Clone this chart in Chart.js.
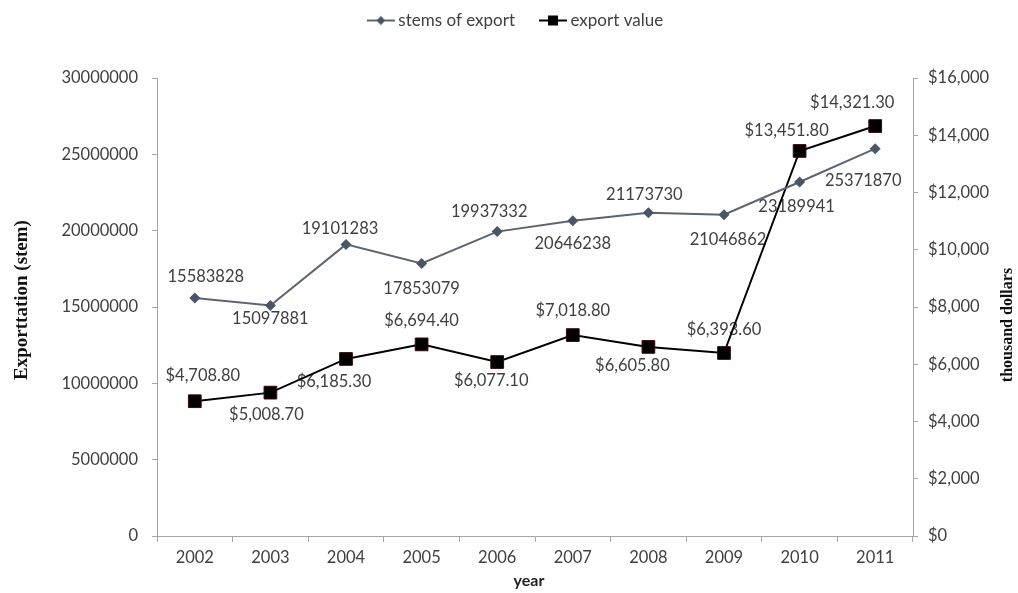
<!DOCTYPE html>
<html>
<head>
<meta charset="utf-8">
<script src="https://cdn.jsdelivr.net/npm/chart.js@4/dist/chart.umd.min.js"></script>
<style>
html,body{margin:0;padding:0;background:#fff;}
#wrap{width:1018px;height:593px;position:relative;}
</style>
</head>
<body>
<div id="wrap"><canvas id="c" width="1018" height="593"></canvas></div>
<script>
// ---- data ----
const years = ['2002','2003','2004','2005','2006','2007','2008','2009','2010','2011'];
const stemsOfExport = [15583828, 15097881, 19101283, 17853079, 19937332, 20646238, 21173730, 21046862, 23189941, 25371870];
const exportValue = [4708.80, 5008.70, 6185.30, 6694.40, 6077.10, 7018.80, 6605.80, 6393.60, 13451.80, 14321.30];
const seriesNames = ['stems of export', 'export value'];
const axisTitles = {left: 'Exporttation (stem)', right: 'thousand dollars', x: 'year'};

// ---- label placement (style, px offsets from the point) ----
const stemLabelOffsets = [[11,-21],[0,13],[-6,-16],[0,25],[-8,-20],[0,23],[-4,-18],[4,25],[-3,25],[-12,32]];
const valueLabelOffsets = [[8,-26],[-4,22],[-12,23],[0,-24],[-6,19],[0,-24],[-16,19],[0,-23],[-13,-20],[-23,-23]];

const FONT = 'Lato, "DejaVu Sans", sans-serif';
const FS = 16.5;
const TXT = '#404040';
const STEM_LINE = '#5d6470';
const STEM_PT = '#4b5565';

function fmtStem(v){ return String(v); }
function fmtMoney(v){ return '$' + v.toLocaleString('en-US',{minimumFractionDigits:2, maximumFractionDigits:2}); }

function legendIcon(kind){
  const c = document.createElement('canvas');
  c.width = 47; c.height = 14;
  const g = c.getContext('2d');
  const x0 = 18, x1 = 46, cy = 7, cx = (x0+x1)/2;
  g.lineWidth = 2;
  g.strokeStyle = kind === 'stem' ? STEM_LINE : '#000';
  g.beginPath(); g.moveTo(x0, cy); g.lineTo(x1, cy); g.stroke();
  if (kind === 'stem') {
    g.fillStyle = STEM_PT;
    g.beginPath(); g.moveTo(cx, cy-4.5); g.lineTo(cx+4.5, cy); g.lineTo(cx, cy+4.5); g.lineTo(cx-4.5, cy); g.closePath(); g.fill();
  } else {
    g.fillStyle = '#000';
    g.fillRect(cx-5, cy-5, 10, 10);
  }
  return c;
}
const legendIcons = [legendIcon('stem'), legendIcon('value')];

const legendGapPlugin = {
  id: 'legendGap',
  beforeInit(chart){
    const lg = chart.legend;
    if (!lg) return;
    const orig = lg.fit;
    lg.fit = function(){ orig.apply(this, arguments); this.height += 39; };
  }
};

const labelPlugin = {
  id: 'pointLabels',
  beforeDatasetsDraw(chart){
    const ctx = chart.ctx;
    const offs = [stemLabelOffsets, valueLabelOffsets];
    const fmts = [fmtStem, fmtMoney];
    chart.data.datasets.forEach((ds, di) => {
      const meta = chart.getDatasetMeta(di);
      meta.data.forEach((pt, i) => {
        const o = offs[di][i];
        ctx.save();
        ctx.font = FS + 'px ' + FONT;
        ctx.fillStyle = TXT;
        ctx.textAlign = 'center';
        ctx.textBaseline = 'middle';
        ctx.fillText(fmts[di](ds.data[i]), pt.x + o[0], pt.y + o[1]);
        ctx.restore();
      });
    });
  }
};

const titlePlugin = {
  id: 'axisTitles',
  afterDraw(chart){
    const ctx = chart.ctx;
    ctx.save();
    ctx.fillStyle = '#111';
    ctx.textAlign = 'center';
    ctx.textBaseline = 'middle';
    ctx.font = 'bold 19px "Liberation Serif", "Times New Roman", serif';
    ctx.save(); ctx.translate(22, 300); ctx.rotate(-Math.PI/2); ctx.fillText(axisTitles.left, 0, 0); ctx.restore();
    ctx.font = 'bold 16px "Liberation Serif", "Times New Roman", serif';
    ctx.save(); ctx.translate(1008, 325); ctx.rotate(-Math.PI/2); ctx.fillText(axisTitles.right, 0, 0); ctx.restore();
    ctx.font = 'bold 16px ' + FONT;
    ctx.fillStyle = '#222';
    ctx.fillText(axisTitles.x, 529, 581);
    ctx.restore();
  }
};

const axisColor = '#a6a6a6';

new Chart(document.getElementById('c'), {
  type: 'line',
  data: {
    labels: years,
    datasets: [
      {
        label: seriesNames[0],
        data: stemsOfExport,
        yAxisID: 'y',
        borderColor: STEM_LINE,
        backgroundColor: STEM_PT,
        borderWidth: 2,
        pointStyle: 'rectRot',
        pointRadius: 5.5,
        pointHoverRadius: 5.5,
        pointBackgroundColor: STEM_PT,
        pointBorderColor: STEM_PT,
        pointBorderWidth: 0,
        tension: 0,
        fill: false
      },
      {
        label: seriesNames[1],
        data: exportValue,
        yAxisID: 'y1',
        borderColor: '#000',
        backgroundColor: '#000',
        borderWidth: 2,
        pointStyle: 'rect',
        pointRadius: 9,
        pointHoverRadius: 9,
        pointBackgroundColor: '#000',
        pointBorderColor: '#3a0a0a',
        pointBorderWidth: 1,
        tension: 0,
        fill: false
      }
    ]
  },
  options: {
    responsive: false,
    animation: false,
    events: [],
    layout: {padding: {top: 0, left: 0, right: 0, bottom: 0}},
    plugins: {
      tooltip: {enabled: false},
      legend: {
        display: true,
        position: 'top',
        labels: {
          usePointStyle: true,
          pointStyleWidth: 35,
          padding: 12,
          color: TXT,
          font: {family: FONT, size: 17},
          generateLabels(chart){
            return chart.data.datasets.map((ds, i) => ({
              text: ds.label,
              pointStyle: legendIcons[i],
              fillStyle: ds.borderColor,
              strokeStyle: ds.borderColor,
              lineWidth: 0,
              hidden: false,
              datasetIndex: i,
              fontColor: TXT
            }));
          }
        }
      }
    },
    scales: {
      x: {
        type: 'category',
        offset: true,
        grid: {display: true, drawOnChartArea: false, drawTicks: true, tickLength: 6, color: axisColor, offset: true},
        border: {display: true, color: axisColor, width: 1},
        ticks: {color: TXT, font: {family: FONT, size: FS}, padding: 6, maxRotation: 0},
        afterFit(s){ s.height = 57; }
      },
      y: {
        position: 'left',
        min: 0, max: 30000000,
        grid: {display: true, drawOnChartArea: false, drawTicks: true, tickLength: 5, color: axisColor},
        border: {display: true, color: axisColor, width: 1},
        ticks: {stepSize: 5000000, color: TXT, font: {family: FONT, size: FS}, padding: 14, callback: v => String(v)},
        afterFit(s){ s.width = 157; }
      },
      y1: {
        position: 'right',
        min: 0, max: 16000,
        grid: {display: true, drawOnChartArea: false, drawTicks: true, tickLength: 5, color: axisColor},
        border: {display: true, color: axisColor, width: 1},
        ticks: {stepSize: 2000, color: TXT, font: {family: FONT, size: FS}, padding: 10, callback: v => '$' + v.toLocaleString('en-US')},
        afterFit(s){ s.width = 105; }
      }
    }
  },
  plugins: [legendGapPlugin, labelPlugin, titlePlugin]
});
</script>
</body>
</html>
